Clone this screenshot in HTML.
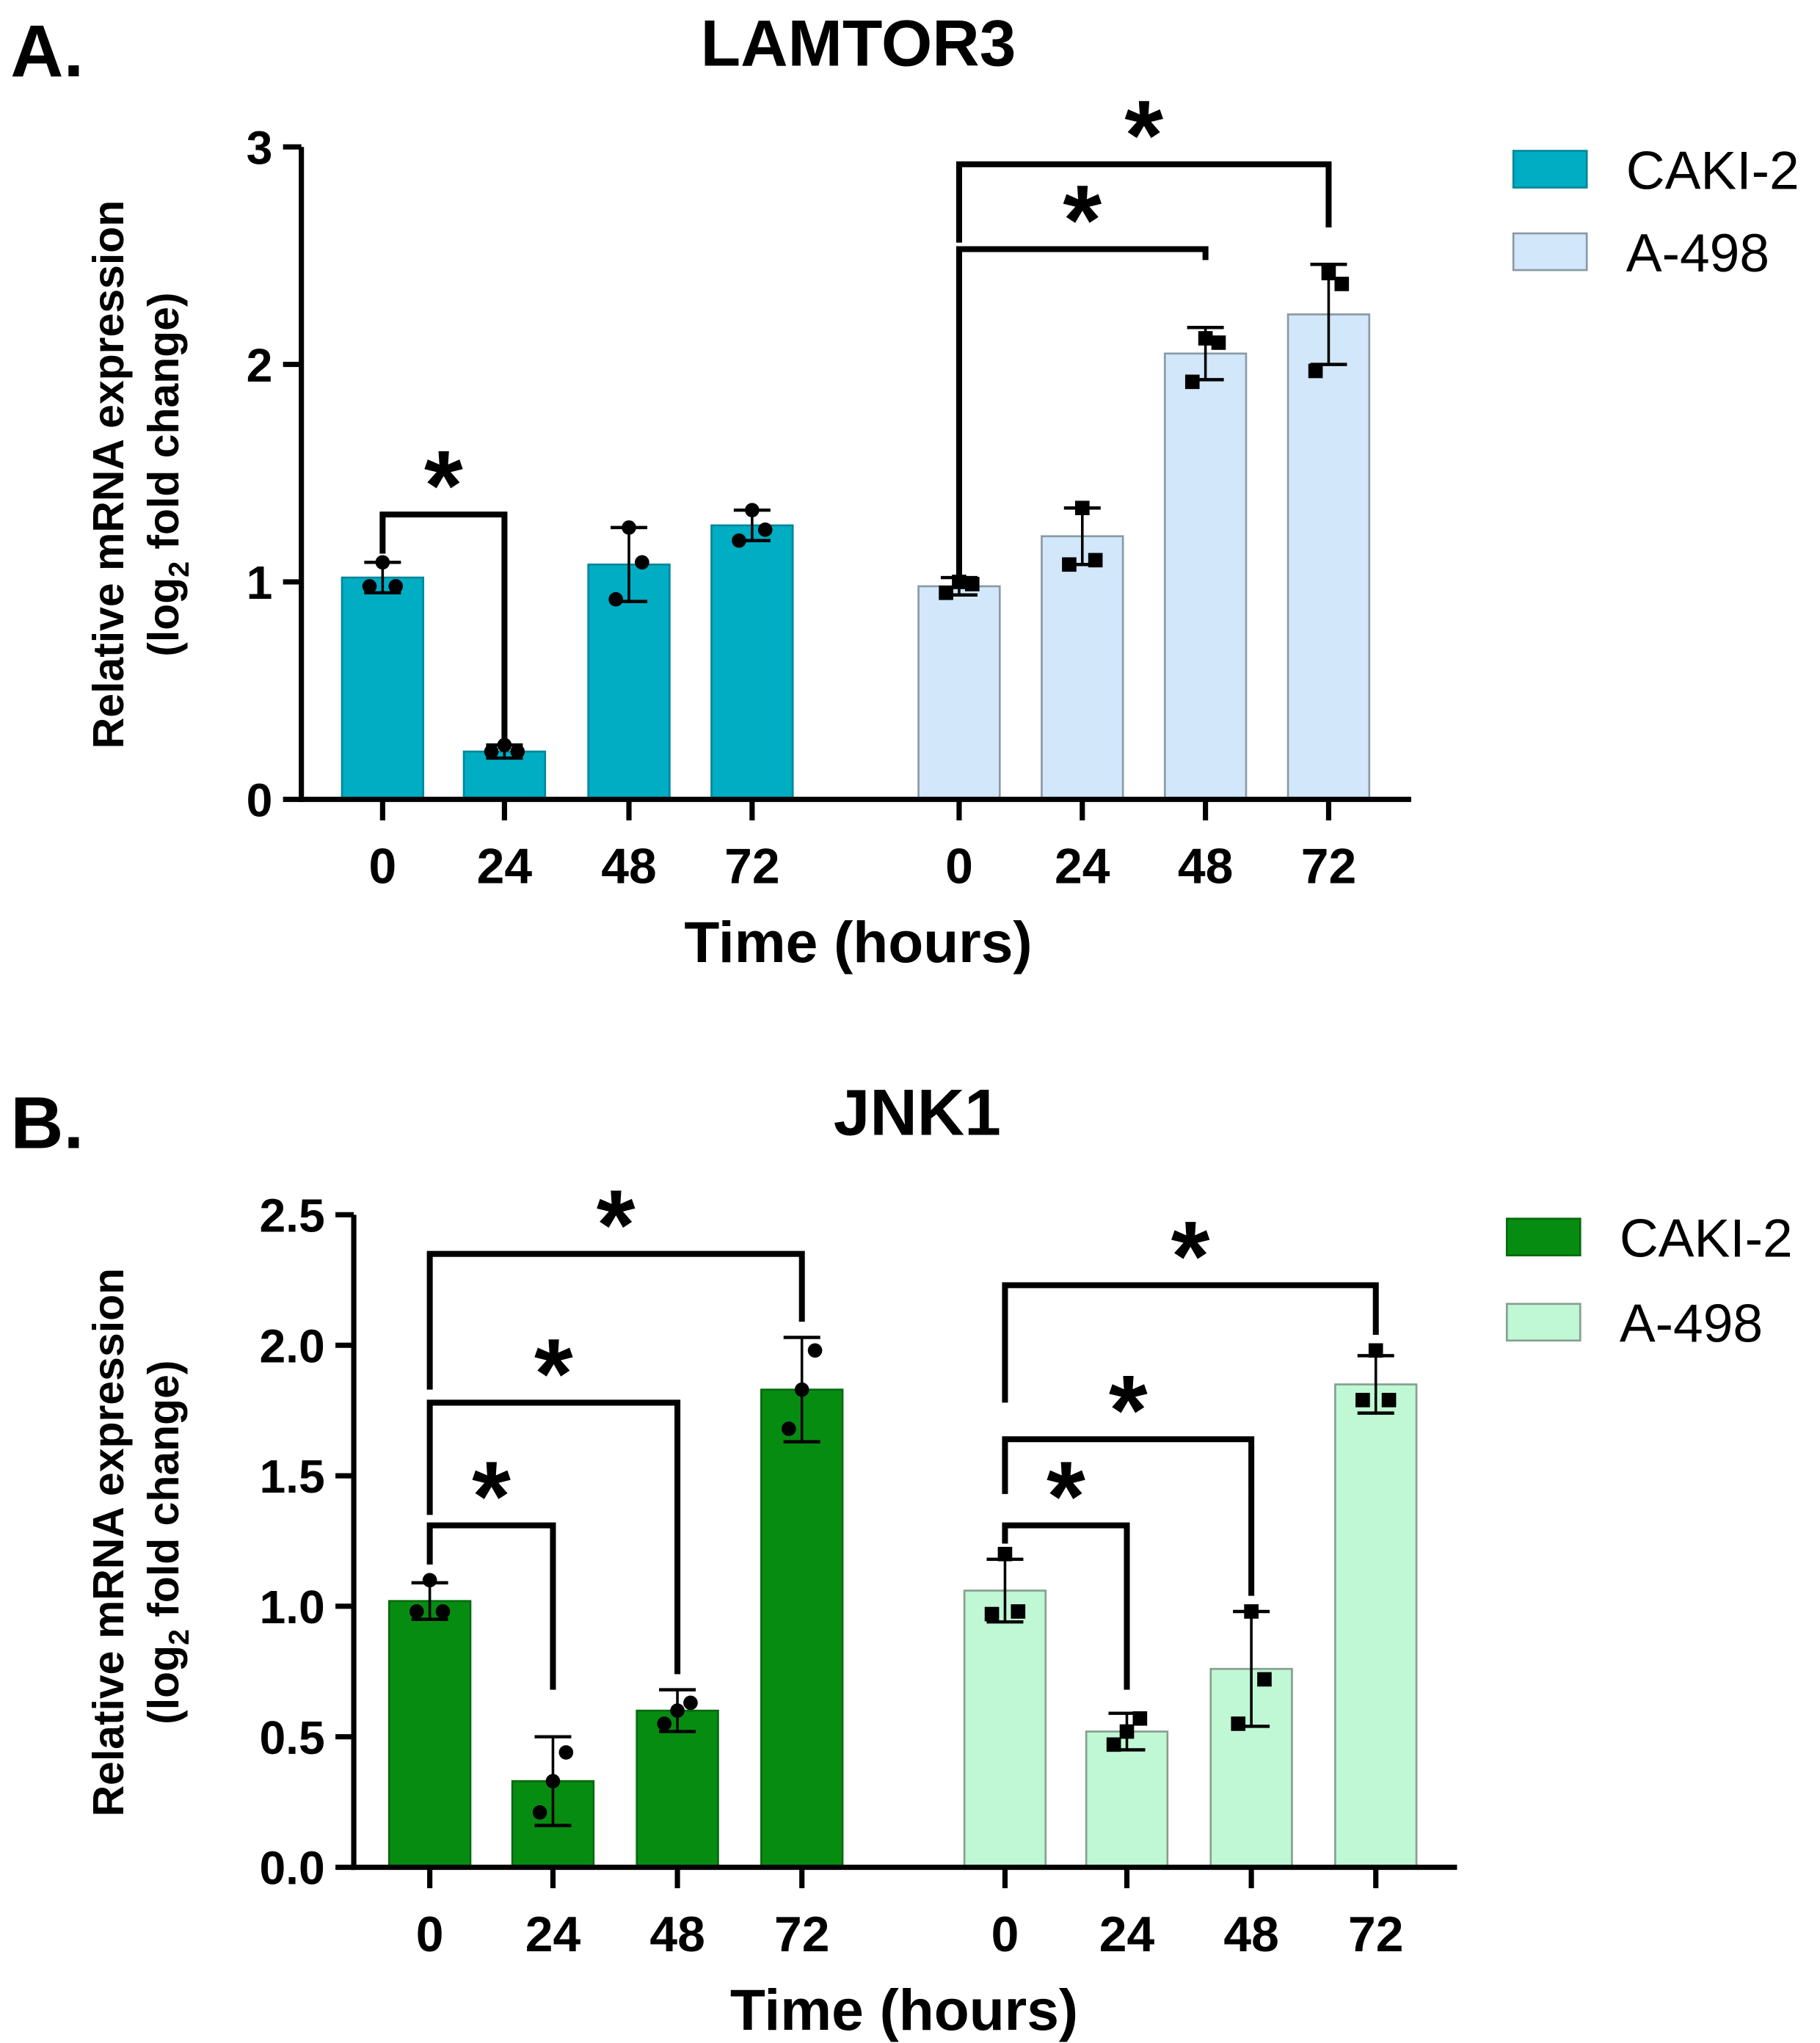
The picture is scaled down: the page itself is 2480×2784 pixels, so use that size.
<!DOCTYPE html>
<html><head><meta charset="utf-8"><style>
html,body{margin:0;padding:0;background:#fff}
svg{display:block}
text{font-family:"Liberation Sans",sans-serif;fill:#000}
</style></head><body>
<svg id="fig" width="2480" height="2784" viewBox="0 0 1389 1559" xmlns="http://www.w3.org/2000/svg">
<text x="8" y="58" font-size="56" font-weight="bold">A.</text>
<text x="655" y="50" font-size="50" font-weight="bold" text-anchor="middle">LAMTOR3</text>
<text x="8" y="876" font-size="56" font-weight="bold">B.</text>
<text x="700" y="866" font-size="50" font-weight="bold" text-anchor="middle">JNK1</text>
<g id="chartA"></g>
<g id="chartB"></g>
</svg>
<script>
const catsA = ["0","24","48","72","0","24","48","72"];
const valsA_caki = [1.02, 0.22, 1.08, 1.26];
const errA_caki = [0.07, 0.03, 0.17, 0.07];
const valsA_a498 = [0.98, 1.21, 2.05, 2.23];
const errA_a498 = [0.04, 0.13, 0.12, 0.23];
const ptsA_caki = [[0.98,0.98,1.09],[0.22,0.22,0.25],[0.92,1.09,1.25],[1.19,1.24,1.33]];
const ptsA_a498 = [[0.95,0.99,1.0],[1.08,1.10,1.34],[1.92,2.10,2.12],[1.97,2.37,2.42]];
const ticksA = [0,1,2,3];
const tickLabelsA = ["0","1","2","3"];

const catsB = ["0","24","48","72","0","24","48","72"];
const valsB_caki = [1.02, 0.33, 0.60, 1.83];
const errB_caki = [0.07, 0.17, 0.08, 0.20];
const valsB_a498 = [1.06, 0.52, 0.76, 1.85];
const errB_a498 = [0.12, 0.07, 0.22, 0.11];
const ptsB_caki = [[0.98,0.98,1.10],[0.21,0.44,0.33],[0.55,0.63,0.60],[1.68,1.98,1.83]];
const ptsB_a498 = [[0.97,0.98,1.20],[0.47,0.57,0.52],[0.55,0.72,0.98],[1.79,1.79,1.98]];
const ticksB = [0,0.5,1.0,1.5,2.0,2.5];
const tickLabelsB = ["0.0","0.5","1.0","1.5","2.0","2.5"];

const NS="http://www.w3.org/2000/svg";
function mk(parent,tag,attrs,txt){const e=document.createElementNS(NS,tag);for(const k in attrs)e.setAttribute(k,attrs[k]);if(txt!==undefined)e.textContent=txt;parent.appendChild(e);return e;}

function drawChart(g, cfg){
  const y = v => cfg.y0 - v*cfg.unit;
  const x = i => cfg.xs[i];
  const bw = 62;
  const series=[{vals:cfg.v1,err:cfg.e1,pts:cfg.p1,fill:cfg.c1,stroke:cfg.s1,off:0,name:"caki-2"},{vals:cfg.v2,err:cfg.e2,pts:cfg.p2,fill:cfg.c2,stroke:cfg.s2,off:4,name:"a-498"}];
  series.forEach(s=>{
    s.vals.forEach((v,i)=>{
      const cx=x(i+s.off);
      const b=mk(g,"rect",{x:cx-bw/2,y:y(v),width:bw,height:cfg.y0-y(v),fill:s.fill,stroke:s.stroke,"stroke-width":1.5});
      
      
      const eg=mk(g,"g",{});
      
      
      const hi=y(v+s.err[i]), lo=y(v-s.err[i]);
      mk(eg,"line",{x1:cx,x2:cx,y1:hi,y2:lo,stroke:"#000","stroke-width":2});
      mk(eg,"line",{x1:cx-14,x2:cx+14,y1:hi,y2:hi,stroke:"#000","stroke-width":2.5});
      mk(eg,"line",{x1:cx-14,x2:cx+14,y1:lo,y2:lo,stroke:"#000","stroke-width":2.5});
      const offs=[-10,10,0];
      s.pts[i].forEach((p,j)=>{
        let d;
        if(s.off===0) d=mk(g,"circle",{cx:cx+offs[j],cy:y(p),r:5.5,fill:"#000"});
        else d=mk(g,"rect",{x:cx+offs[j]-5.5,y:y(p)-5.5,width:11,height:11,fill:"#000"});
        
        
      });
    });
  });
  const ya=mk(g,"line",{x1:cfg.ax,x2:cfg.ax,y1:y(cfg.ticks[cfg.ticks.length-1]),y2:cfg.y0+2,stroke:"#000","stroke-width":4});
   
  const xa=mk(g,"line",{x1:cfg.ax-2,x2:cfg.xend,y1:cfg.y0,y2:cfg.y0,stroke:"#000","stroke-width":4});
   
  cfg.ticks.forEach((t,i)=>{
    mk(g,"line",{x1:cfg.ax-14,x2:cfg.ax,y1:y(t),y2:y(t),stroke:"#000","stroke-width":4});
    const tl=mk(g,"text",{x:cfg.ax-22,y:y(t)+13,"font-size":36,"font-weight":"bold","text-anchor":"end"},cfg.tickLabels[i]);
     
  });
  cfg.cats.forEach((c,i)=>{
    mk(g,"line",{x1:x(i),x2:x(i),y1:cfg.y0,y2:cfg.y0+16,stroke:"#000","stroke-width":4});
    const tl=mk(g,"text",{x:x(i),y:cfg.y0+64,"font-size":38,"font-weight":"bold","text-anchor":"middle"},c);
     
  });
  const xt=mk(g,"text",{x:cfg.xtx,y:cfg.y0+124,"font-size":44,"font-weight":"bold","text-anchor":"middle"},"Time (hours)");
   
  const yt=mk(g,"text",{transform:`translate(94,${cfg.ymid}) rotate(-90)`,"font-size":33,"font-weight":"bold","text-anchor":"middle"},"Relative mRNA expression");
   
  const yt2=mk(g,"text",{transform:`translate(136,${cfg.ymid}) rotate(-90)`,"font-size":33,"font-weight":"bold","text-anchor":"middle"});
   
  mk(yt2,"tspan",{},"(log");
  mk(yt2,"tspan",{"font-size":22,dy:8},"2");
  mk(yt2,"tspan",{dy:-8}," fold change)");
  cfg.brackets.forEach(b=>{
    const bg=mk(g,"g",{});
    
    
    const x1=x(b[0]),x2=x(b[1]),yb=y(b[2]);
    mk(bg,"path",{d:`M${x1},${y(b[3])} V${yb} H${x2} V${y(b[4])}`,fill:"none",stroke:"#000","stroke-width":4.5});
    mk(bg,"text",{x:(x1+x2)/2,y:yb+4,"font-size":76,"font-weight":"bold","text-anchor":"middle"},"*");
  });
  [[cfg.c1,cfg.s1,"CAKI-2"],[cfg.c2,cfg.s2,"A-498"]].forEach((l,i)=>{
    const lg=mk(g,"g",{});
    
    
    const ly=cfg.legY+i*cfg.legGap;
    mk(lg,"rect",{x:cfg.legX,y:ly,width:56,height:28,fill:l[0],stroke:l[1],"stroke-width":1.5});
    mk(lg,"text",{x:cfg.legX+86,y:ly+29,"font-size":41},l[2]);
  });
}

drawChart(document.getElementById("chartA"),{
  y0:610, unit:166, ax:230, xend:1077, xs:[292,385,480,574,732,826,920,1014],
  cats:catsA, v1:valsA_caki,e1:errA_caki,p1:ptsA_caki, v2:valsA_a498,e2:errA_a498,p2:ptsA_a498,
  c1:"#00adc3", s1:"#00889a", c2:"#d2e7f9", s2:"#8a9aa6",
  ticks:ticksA, tickLabels:tickLabelsA, xtx:655, ymid:362,
  brackets:[[0,1,1.31,1.13,0.26],[4,6,2.53,1.03,2.48],[4,7,2.92,2.56,2.63]],
  legX:1155, legY:115, legGap:63
});
drawChart(document.getElementById("chartB"),{
  y0:1425, unit:199.2, ax:270, xend:1112, xs:[328,422,517,612,767,860,955,1050],
  cats:catsB, v1:valsB_caki,e1:errB_caki,p1:ptsB_caki, v2:valsB_a498,e2:errB_a498,p2:ptsB_a498,
  c1:"#078c12", s1:"#056a0d", c2:"#c0f7d4", s2:"#86a090",
  ticks:ticksB, tickLabels:tickLabelsB, xtx:690, ymid:1177,
  brackets:[[0,1,1.31,1.16,0.68],[0,2,1.78,1.35,0.74],[0,3,2.35,1.83,2.09],[4,5,1.31,1.24,0.68],[4,6,1.64,1.43,1.04],[4,7,2.23,1.78,2.04]],
  legX:1150, legY:930, legGap:65
});
</script>
</body></html>
